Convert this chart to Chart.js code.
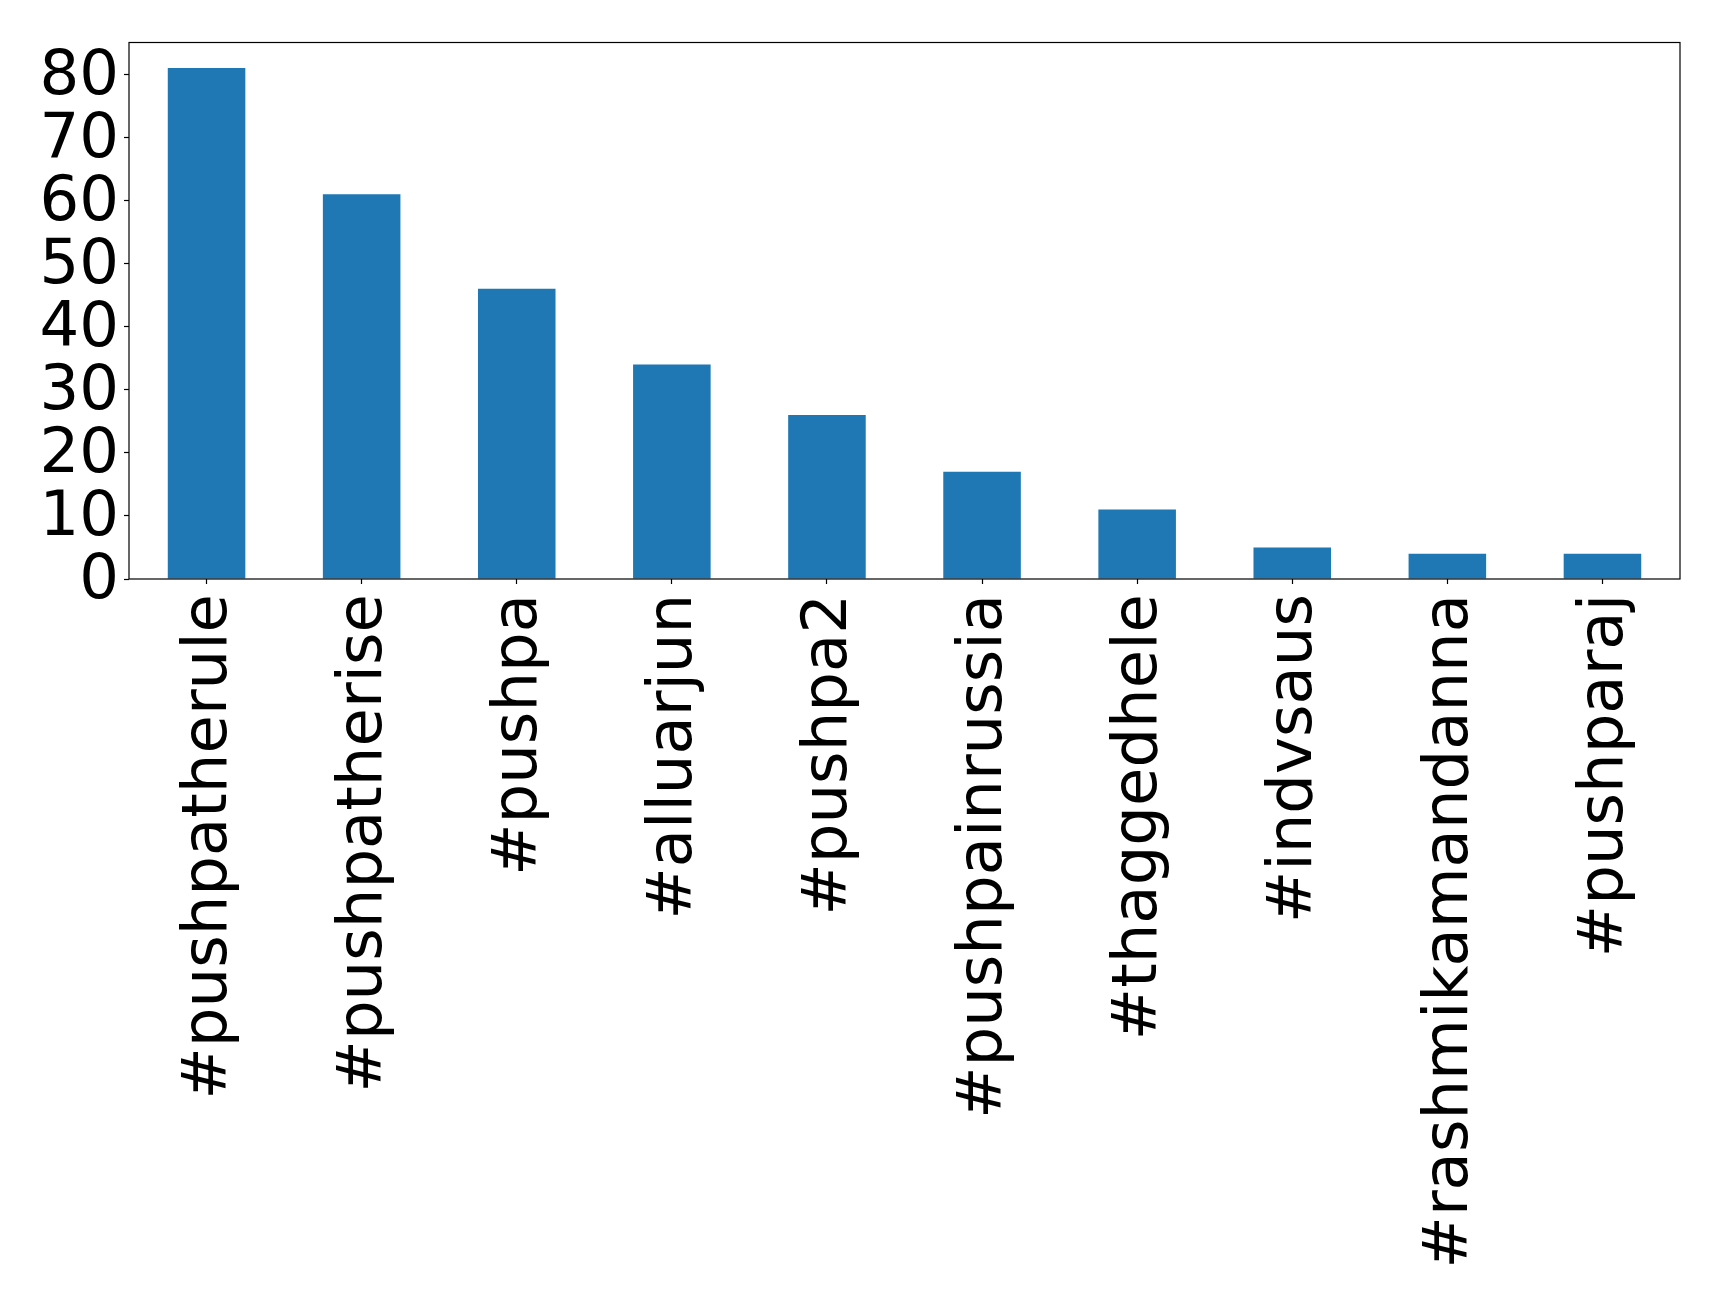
<!DOCTYPE html>
<html>
<head>
<meta charset="utf-8">
<script src="https://cdn.jsdelivr.net/npm/chart.js@4"></script>
<style>
  html, body { margin: 0; padding: 0; background: #ffffff; }
  #wrap { width: 1719px; height: 1302px; }
</style>
</head>
<body>
<div id="wrap"><canvas id="c" width="1719" height="1302"></canvas></div>
<script>
const categories = ["#pushpatherule", "#pushpatherise", "#pushpa", "#alluarjun", "#pushpa2",
  "#pushpainrussia", "#thaggedhele", "#indvsaus", "#rashmikamandanna", "#pushparaj"];
const counts = [81, 61, 46, 34, 26, 17, 11, 5, 4, 4];
const yTickValues = [0, 10, 20, 30, 40, 50, 60, 70, 80];

const FONT = { family: "'DejaVu Sans', sans-serif", size: 62.5 };

const frame = {
  id: 'frame',
  afterDatasetsDraw(chart) {
    const a = chart.chartArea, ctx = chart.ctx;
    ctx.save();
    ctx.strokeStyle = '#000';
    ctx.lineWidth = 1.2;
    ctx.strokeRect(a.left, a.top, a.right - a.left, a.bottom - a.top);
    ctx.restore();
  }
};

new Chart(document.getElementById('c'), {
  type: 'bar',
  data: {
    labels: categories,
    datasets: [{
      data: counts,
      backgroundColor: '#1f77b4',
      borderWidth: 0,
      categoryPercentage: 1.0,
      barPercentage: 0.5
    }]
  },
  options: {
    responsive: false,
    animation: false,
    devicePixelRatio: 1,
    layout: { padding: { top: 40, right: 39, left: 0, bottom: 0 } },
    plugins: { legend: { display: false }, tooltip: { enabled: false } },
    scales: {
      x: {
        grid: { drawOnChartArea: false, offset: false, tickLength: 5, tickColor: '#000', tickWidth: 1.2 },
        border: { display: false },
        ticks: { color: '#000', font: FONT, maxRotation: 90, minRotation: 90, padding: 10, autoSkip: false, labelOffset: 3 },
        afterFit(scale) { scale.height = 1302 - 579; }
      },
      y: {
        min: 0,
        max: 85.05,
        grid: { drawOnChartArea: false, tickLength: 5, tickColor: '#000', tickWidth: 1.2 },
        border: { display: false },
        afterBuildTicks(scale) { scale.ticks = yTickValues.map(v => ({ value: v })); },
        ticks: { color: '#000', font: FONT, padding: 5, autoSkip: false, labelOffset: 3 },
        afterFit(scale) { scale.width = 129; }
      }
    }
  },
  plugins: [frame]
});
</script>
</body>
</html>
